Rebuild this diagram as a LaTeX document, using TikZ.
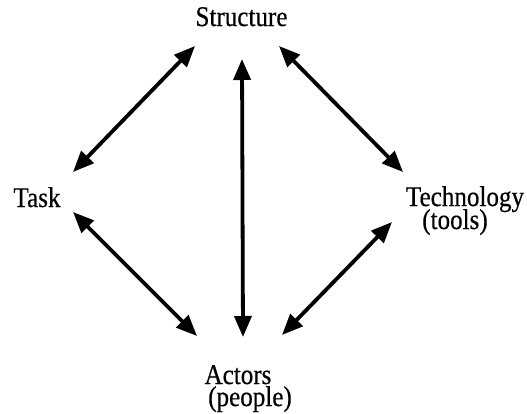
\documentclass[tikz,border=0pt]{standalone}
\usepackage{fontspec}
\newfontfamily\lblfont{Liberation Serif}[FakeBold=0.5]
\usetikzlibrary{arrows.meta}
\newcommand\lbl[1]{\scalebox{0.88}[1]{#1}}
\begin{document}
\begin{tikzpicture}[x=1pt,y=-1pt,
  word/.style={inner sep=0pt,anchor=base,font=\lblfont\fontsize{28.5}{30}\selectfont},
  link/.style={line width=3.8pt,{Triangle[length=21pt,width=17pt]}-{Triangle[length=21pt,width=17pt]}}]
  \useasboundingbox (0,0) rectangle (527,413);
  % labels
  \node[word] (struct) at (241.5,26) {\lbl{Structure}};
  \node[word] (task)   at (37,207)   {\lbl{Task}};
  \node[word] (tech)   at (465,206)  {\lbl{Technology}};
  \node[word] (tools)  at (455,229)  {\lbl{(tools)}};
  \node[word] (actors) at (238,384)  {\lbl{Actors}};
  \node[word] (people) at (250,406)  {\lbl{(people)}};
  % two-way links
  \draw[link] ([shift={(-46.5,20)}]struct.base) -- ([shift={(36,-35)}]task.base);
  \draw[link] ([shift={(37.5,20)}]struct.base) -- ([shift={(-62,-34)}]tech.base);
  \draw[link] ([shift={(0.5,33)}]struct.base) -- ([shift={(5,-47)}]actors.base);
  \draw[link] ([shift={(36,5)}]task.base) -- ([shift={(-41,-48)}]actors.base);
  \draw[link] ([shift={(-73,16)}]tech.base) -- ([shift={(44,-49)}]actors.base);
\end{tikzpicture}
\end{document}
